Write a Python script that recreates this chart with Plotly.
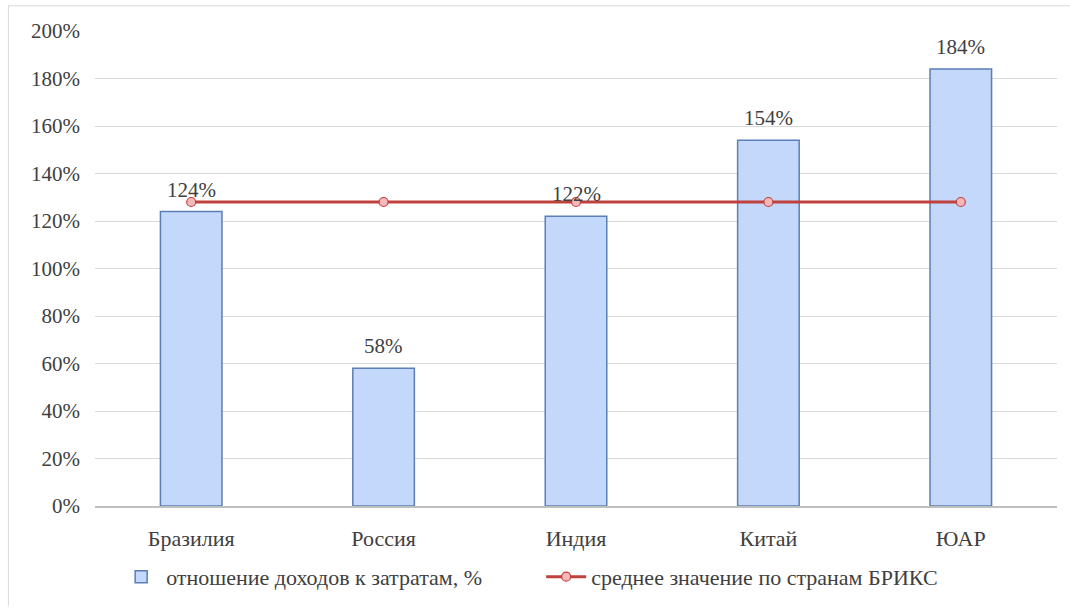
import plotly.graph_objects as go

# Data
countries = ["Бразилия", "Россия", "Индия", "Китай", "ЮАР"]
ratio_pct = [124, 58, 122, 154, 184]          # отношение доходов к затратам, %
brics_avg = [128, 128, 128, 128, 128]         # среднее значение по странам БРИКС
y_ticks = [0, 20, 40, 60, 80, 100, 120, 140, 160, 180, 200]

SERIF = "Liberation Serif"
TXT = "#404040"

fig = go.Figure()

fig.add_trace(go.Bar(
    x=countries,
    y=ratio_pct,
    name="отношение доходов к затратам, %",
    width=0.32,
    marker=dict(color="#c3d8fa", line=dict(color="#5b7fb4", width=1.5)),
))

fig.add_trace(go.Scatter(
    x=countries,
    y=brics_avg,
    name="среднее значение по странам БРИКС",
    mode="lines+markers",
    line=dict(color="#c0403c", width=3),
    marker=dict(symbol="circle", size=9, color="#f5b8b8",
                line=dict(color="#c0403c", width=1.2)),
))

# value labels above the bars
for c, v in zip(countries, ratio_pct):
    fig.add_annotation(
        x=c, y=v, text=f"{v}%", showarrow=False,
        yanchor="bottom", yshift=8,
        font=dict(family=SERIF, size=21, color=TXT),
    )

fig.update_layout(
    width=1070, height=610,
    margin=dict(l=95, r=13, t=31, b=102),
    paper_bgcolor="white", plot_bgcolor="white",
    font=dict(family=SERIF, size=20, color=TXT),
    bargap=0.68,
    showlegend=True,
    legend=dict(
        orientation="h", x=0.022, xanchor="left", y=-0.105, yanchor="top",
        font=dict(family=SERIF, size=22, color=TXT),
        itemwidth=40, tracegroupgap=0,
        entrywidth=370, entrywidthmode="pixels",
    ),
    shapes=[
        dict(type="line", xref="paper", yref="paper",
             x0=-0.09, x1=-0.09, y0=-0.21, y1=1.053,
             line=dict(color="#d9d9d9", width=1), layer="below"),
        dict(type="line", xref="paper", yref="paper",
             x0=-0.09, x1=1.02, y0=1.053, y1=1.053,
             line=dict(color="#d9d9d9", width=1), layer="below"),
    ],
)

fig.update_yaxes(
    range=[0, 200], tickvals=y_ticks,
    ticktext=[f"{t}%" for t in y_ticks],
    showgrid=True, gridcolor="#d9d9d9", gridwidth=1,
    zeroline=False, showline=False, ticks="",
    ticklabelstandoff=14,
    tickfont=dict(family=SERIF, size=21, color=TXT),
)
fig.update_xaxes(
    showline=True, linecolor="#bfbfbf", linewidth=1.5,
    ticks="", ticklabelstandoff=12,
    tickfont=dict(family=SERIF, size=22, color=TXT),
)

fig.write_html("out.html")
